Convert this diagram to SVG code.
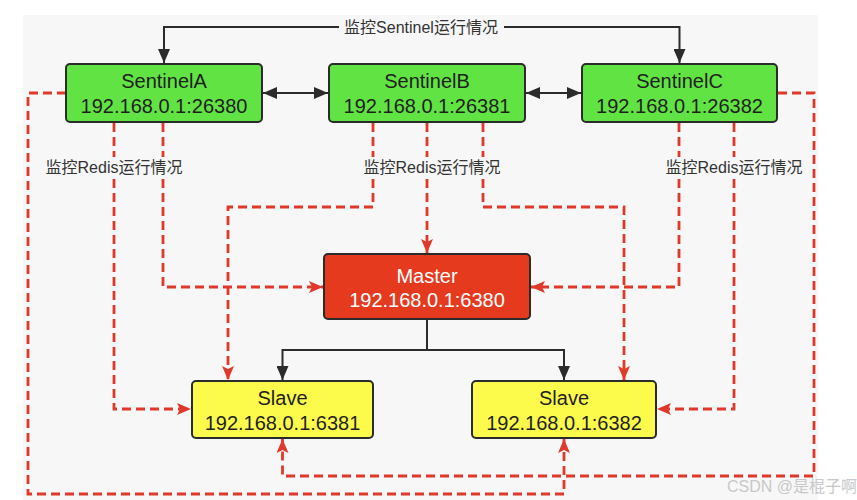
<svg xmlns="http://www.w3.org/2000/svg" width="857" height="500" viewBox="0 0 857 500">
<defs>
<style>
.bg{fill:#f7f7f7}
.box{stroke:#2b2b2b;stroke-width:2}
.sen{fill:#62e344}
.mas{fill:#e63a1f}
.sla{fill:#fcfa4b}
.t{font-family:"Liberation Sans","Noto Sans CJK SC",sans-serif;font-size:20px;text-anchor:middle;fill:#1f1f1f}
.tw{fill:#ffffff}
.lbl{font-family:"Liberation Sans","Noto Sans CJK SC",sans-serif;font-size:16px;text-anchor:middle;fill:#333333}
.lbg{fill:#f7f7f7}
.blk{fill:none;stroke:#2b2b2b;stroke-width:2}
.red{fill:none;stroke:#e0392b;stroke-width:2.8;stroke-dasharray:9 5}
.wm{font-family:"Liberation Sans","Noto Sans CJK SC",sans-serif;font-size:16px;fill:#c8c8c8}
</style>
<marker id="ab" viewBox="0 0 14 12" refX="14" refY="6" markerWidth="14" markerHeight="12" orient="auto-start-reverse" markerUnits="userSpaceOnUse">
<path d="M0,0 L14,6 L0,12 z" fill="#2b2b2b"/>
</marker>
<marker id="ar" viewBox="0 0 14 12" refX="14" refY="6" markerWidth="14" markerHeight="12" orient="auto" markerUnits="userSpaceOnUse">
<path d="M0,0 L14,6 L0,12 L3,6 z" fill="#e0392b"/>
</marker>
</defs>
<rect x="0" y="0" width="857" height="500" fill="#ffffff"/>
<rect class="bg" x="23" y="15" width="795" height="485"/>
<g id="connectors">
<path class="blk" d="M164,63 V27 H679.5 V63" marker-start="url(#ab)" marker-end="url(#ab)"/>
<path class="blk" d="M263,93 H328" marker-start="url(#ab)" marker-end="url(#ab)"/>
<path class="blk" d="M526,93 H581" marker-start="url(#ab)" marker-end="url(#ab)"/>
<path class="blk" d="M427,320 V350"/>
<path class="blk" d="M427,350 H282.5 V380" marker-end="url(#ab)"/>
<path class="blk" d="M427,350 H564 V380" marker-end="url(#ab)"/>
<path class="red" d="M114,123 V409 H191" marker-end="url(#ar)"/>
<path class="red" d="M163,123 V287 H323" marker-end="url(#ar)"/>
<path class="red" d="M373,123 V207 H228 V380" marker-end="url(#ar)"/>
<path class="red" d="M427,123 V253" marker-end="url(#ar)"/>
<path class="red" d="M483,123 V207 H624 V380" marker-end="url(#ar)"/>
<path class="red" d="M679,123 V287 H531" marker-end="url(#ar)"/>
<path class="red" d="M734,123 V409 H657" marker-end="url(#ar)"/>
<path class="red" d="M66,93 H28 V494 H564 V439" marker-end="url(#ar)"/>
<path class="red" d="M778,93 H814 V476 H282.5 V439" marker-end="url(#ar)"/>
<rect class="lbg" x="339" y="17" width="165" height="20"/>
<text class="lbl" x="421" y="33">监控Sentinel运行情况</text>
<rect class="lbg" x="43" y="157" width="142" height="21"/>
<text class="lbl" x="114" y="173">监控Redis运行情况</text>
<rect class="lbg" x="361" y="157" width="142" height="21"/>
<text class="lbl" x="432" y="173">监控Redis运行情况</text>
<rect class="lbg" x="663" y="157" width="142" height="21"/>
<text class="lbl" x="734" y="173">监控Redis运行情况</text>
</g>
<g id="sentinelA">
<rect class="box sen" x="66" y="64" width="196" height="58" rx="4"/>
<text class="t" x="164" y="88">SentinelA</text>
<text class="t" x="164" y="113">192.168.0.1:26380</text>
</g>
<g id="sentinelB">
<rect class="box sen" x="329" y="64" width="196" height="58" rx="4"/>
<text class="t" x="427" y="88">SentinelB</text>
<text class="t" x="427" y="113">192.168.0.1:26381</text>
</g>
<g id="sentinelC">
<rect class="box sen" x="582" y="64" width="195" height="58" rx="4"/>
<text class="t" x="679.5" y="88">SentinelC</text>
<text class="t" x="679.5" y="113">192.168.0.1:26382</text>
</g>
<g id="master">
<rect class="box mas" x="324" y="254" width="206" height="65" rx="4"/>
<text class="t tw" x="427" y="283">Master</text>
<text class="t tw" x="427" y="307">192.168.0.1:6380</text>
</g>
<g id="slave1">
<rect class="box sla" x="192" y="381" width="181" height="57" rx="4"/>
<text class="t" x="282.5" y="405">Slave</text>
<text class="t" x="282.5" y="430">192.168.0.1:6381</text>
</g>
<g id="slave2">
<rect class="box sla" x="472" y="381" width="184" height="57" rx="4"/>
<text class="t" x="564" y="405">Slave</text>
<text class="t" x="564" y="430">192.168.0.1:6382</text>
</g>
<text class="wm" x="727" y="492">CSDN @是棍子啊</text>
</svg>
